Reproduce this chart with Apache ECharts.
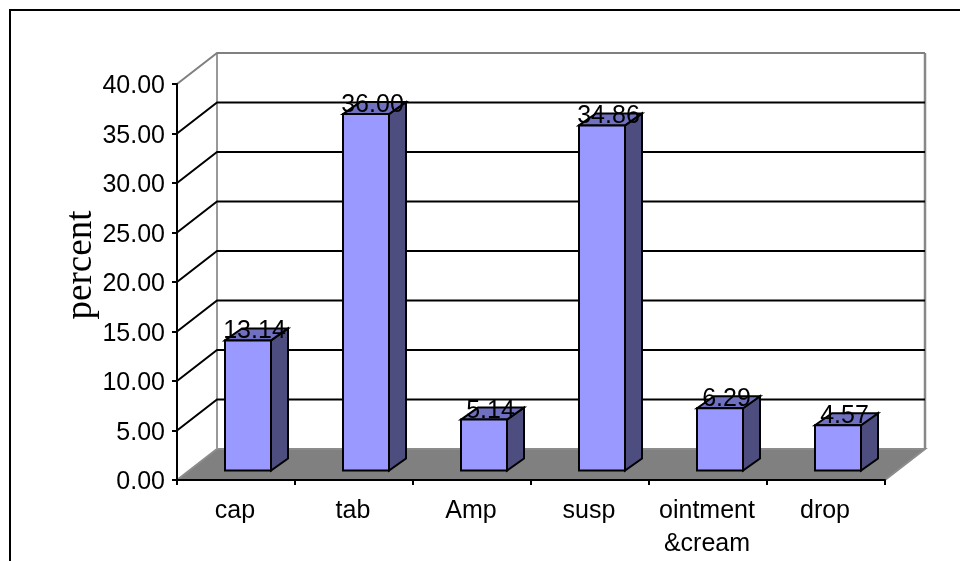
<!DOCTYPE html>
<html><head><meta charset="utf-8">
<style>html,body{margin:0;padding:0;background:#fff}#c{width:960px;height:561px}</style>
<script src="https://cdn.jsdelivr.net/npm/echarts@6/dist/echarts.min.js"></script>
</head><body><div id="c"></div>
<script>
const categories = ['cap','tab','Amp','susp','ointment\n&cream','drop'];
const percentValues = [13.14,36.00,5.14,34.86,6.29,4.57];
const tickValues = [0,5,10,15,20,25,30,35,40];
const axisFont = 'Liberation Sans, Arial, sans-serif';
const fontSize = 25;
const depth = [40,-31], barDepth = [17,-12], barShift = [12,-9.5], barWidth = 46;

function poly(points, fill, stroke, w){
  return {type:'polygon', shape:{points}, style:{fill, stroke: stroke||'none', lineWidth:w||0, lineJoin:'miter'}};
}
function line(points, stroke, w){
  return {type:'polyline', shape:{points}, style:{fill:'none', stroke, lineWidth:w}};
}
const chart = echarts.init(document.getElementById('c'), null, {renderer:'canvas'});
chart.setOption({
  animation:false,
  backgroundColor:'#fff',
  grid:{left:177, top:84, width:708, height:397, containLabel:false},
  xAxis:{type:'category', data:categories, z:5,
    axisLine:{lineStyle:{color:'#000',width:2}},
    axisTick:{show:true, alignWithLabel:false, length:5, lineStyle:{color:'#000',width:2}},
    axisLabel:{color:'#000', fontFamily:axisFont, fontSize, margin:15, lineHeight:33, interval:0, padding:[0,2,0,0]},
    splitLine:{show:false}},
  yAxis:{type:'value', min:0, max:40, interval:5, z:5,
    axisLine:{show:true, lineStyle:{color:'#000',width:2}},
    axisTick:{show:true, length:5, lineStyle:{color:'#000',width:2}},
    axisLabel:{color:'#000', fontFamily:axisFont, fontSize, margin:12, verticalAlign:'top', lineHeight:5, formatter:v=>v.toFixed(2)},
    splitLine:{show:false}},
  graphic:[
    {type:'polyline', silent:true, z:0, shape:{points:[[10,561],[10,10],[960,10]]}, style:{fill:'none',stroke:'#000',lineWidth:2}},
    {type:'text', silent:true, x:81, y:265, rotation:Math.PI/2, style:{text:'percent', fill:'#000', font:'37px "Liberation Serif", "Times New Roman", serif', align:'center', verticalAlign:'middle'}}
  ],
  series:[
    {type:'custom', z:2, silent:true, data:tickValues.map(v=>[0,v]), encode:{x:0,y:1},
      renderItem(params, api){
        const cs = params.coordSys, y = api.coord([0,api.value(1)])[1], v = api.value(1);
        const x0 = cs.x, x1 = cs.x+cs.width, bx = x0+depth[0], by = y+depth[1], ex = x1+depth[0];
        const ch = [];
        if(v===0){
          ch.push(poly([[x0,y],[bx,by],[ex,by],[x1,y]],'#808080'));
          ch.push(line([[x0,y],[bx,by],[ex,by],[x1,y]],'#8c8c8c',2));
          const top = api.coord([0,40])[1]+depth[1];
          ch.push(line([[bx,by],[bx,top]],'#999',2));
          ch.push(line([[ex,by],[ex,top]],'#888',2.5));
        } else if(v===40){
          ch.push(line([[x0,y],[bx,by],[ex,by]],'#808080',2));
        } else {
          ch.push(line([[x0,y],[bx,by],[ex,by]],'#000',2));
        }
        return {type:'group', children:ch};
      }},
    {type:'custom', z:3, silent:true, data:percentValues.map((v,i)=>[i,v]), encode:{x:0,y:1},
      renderItem(params, api){
        const i = api.value(0), v = api.value(1);
        const top = api.coord([i,v]), base = api.coord([i,0]);
        const xl = top[0]+barShift[0]-barWidth/2, xr = xl+barWidth;
        const yt = top[1]+barShift[1], yb = base[1]+barShift[1];
        const dx = barDepth[0], dy = barDepth[1], bs = '#000';
        return {type:'group', children:[
          poly([[xr,yt],[xr+dx,yt+dy],[xr+dx,yb+dy],[xr,yb]],'#4d4d80',bs,2),
          poly([[xl,yt],[xl+dx,yt+dy],[xr+dx,yt+dy],[xr,yt]],'#7070c0',bs,2),
          poly([[xl,yt],[xr,yt],[xr,yb],[xl,yb]],'#9999ff',bs,2),
          {type:'text', z2:10, style:{text:v.toFixed(2), x:xl+barWidth/2+dx/2-2, y:yt-9, fill:'#000', font:fontSize+'px '+axisFont, align:'center', verticalAlign:'middle'}}
        ]};
      }}
  ]
});
</script></body></html>
